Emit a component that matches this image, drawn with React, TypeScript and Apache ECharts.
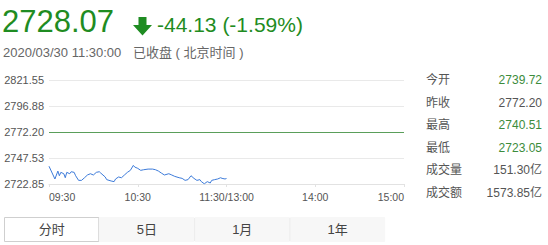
import React, { useEffect, useRef } from "react";
import * as echarts from "echarts";

// Intraday trace: minutes since 09:30 (lunch break removed) and index level
const minutes = [0, 4, 6, 7, 8, 10, 11, 12, 14, 15, 17, 18, 20, 22, 24, 26, 28, 30, 32, 34, 35, 38, 39, 42, 44, 45, 47, 49, 51, 53, 55, 57, 58, 60, 62, 64, 67, 70, 72, 74, 76, 78, 81, 83, 85, 88, 90, 92, 94, 96, 98, 100, 102, 103, 105, 107, 109, 110, 112, 114, 116, 117, 119, 120];
const prices = [2739.72, 2727.6, 2735.1, 2730.7, 2733.9, 2732.6, 2728.8, 2733.9, 2732.6, 2734.5, 2733.9, 2730.7, 2726.3, 2726.3, 2728.8, 2731.4, 2732.6, 2731.4, 2733.9, 2734.5, 2733.2, 2729.5, 2727.0, 2725.7, 2725.1, 2727.6, 2729.5, 2728.8, 2731.4, 2733.9, 2735.8, 2740.51, 2738.9, 2737.7, 2735.8, 2736.4, 2737.0, 2737.0, 2736.4, 2735.1, 2733.2, 2731.4, 2732.6, 2731.4, 2730.1, 2728.8, 2728.2, 2726.3, 2727.0, 2730.7, 2728.2, 2726.3, 2727.0, 2725.1, 2723.05, 2725.1, 2723.8, 2726.3, 2727.0, 2727.6, 2728.8, 2728.2, 2727.6, 2728.07];

const timeLabels = ["09:30", "10:30", "11:30/13:00", "14:00", "15:00"];
const priceTicks = [2722.85, 2747.53, 2772.2, 2796.88, 2821.55];
const prevClose = 2772.2;

const lastPrice = "2728.07";
const changeText = "-44.13 (-1.59%)";
const stampText = "2020/03/30 11:30:00";
const statusText = "已收盘 ( 北京时间 )";

const statNames = ["今开", "昨收", "最高", "最低", "成交量", "成交额"];
const statValues = ["2739.72", "2772.20", "2740.51", "2723.05", "151.30亿", "1573.85亿"];
const statDown = [true, false, true, true, false, false];

const tabNames = ["分时", "5日", "1月", "1年"];

const GREEN = "#1f8c22";
const FONT = "'Liberation Sans', Arial, 'Noto Sans CJK SC', sans-serif";

export default function App() {
  const ref = useRef<HTMLDivElement>(null);

  useEffect(() => {
    document.body.style.margin = "0";
    const chart = echarts.init(ref.current!, null, { renderer: "svg" });

    const graphics: any[] = [
      {
        type: "text",
        left: 2,
        top: 6,
        style: { text: lastPrice, fontSize: 31, fill: GREEN, fontFamily: FONT },
      },
      {
        type: "polygon",
        shape: {
          points: [
            [138.5, 17], [146.5, 17], [146.5, 25], [152, 25],
            [142.5, 35.5], [133, 25], [138.5, 25],
          ],
        },
        style: { fill: GREEN },
      },
      {
        type: "text",
        left: 157,
        top: 14,
        style: { text: changeText, fontSize: 21, fill: GREEN, fontFamily: FONT },
      },
      {
        type: "text",
        left: 3,
        top: 46,
        style: { text: stampText, fontSize: 13, fill: "#666", fontFamily: FONT },
      },
      {
        type: "text",
        left: 133,
        top: 46,
        style: { text: statusText, fontSize: 13, fill: "#666", fontFamily: FONT },
      },
    ];

    statNames.forEach((name, i) => {
      const y = 80 + i * 22.5;
      graphics.push({
        type: "text",
        x: 426,
        y,
        style: {
          text: name,
          fontSize: 12,
          fill: "#555",
          fontFamily: FONT,
          verticalAlign: "middle",
        },
      });
      graphics.push({
        type: "text",
        x: 542,
        y,
        style: {
          text: statValues[i],
          fontSize: 12,
          fill: statDown[i] ? "#3c8c3c" : "#555",
          fontFamily: FONT,
          align: "right",
          verticalAlign: "middle",
        },
      });
    });

    const tabW = 95.3;
    tabNames.forEach((name, i) => {
      const x0 = 4 + i * tabW;
      graphics.push({
        type: "rect",
        shape: { x: x0 + 0.5, y: 217.5, width: tabW - 1, height: 24 },
        style:
          i === 0
            ? { fill: "#fff", stroke: "#cfcfcf", lineWidth: 1 }
            : { fill: "#f7f7f7", stroke: "#f7f7f7", lineWidth: 1 },
      });
      if (i > 1) {
        graphics.push({
          type: "line",
          shape: { x1: x0, y1: 218, x2: x0, y2: 241 },
          style: { stroke: "#ececec", lineWidth: 1 },
        });
      }
      graphics.push({
        type: "text",
        x: x0 + tabW / 2,
        y: 229.5,
        style: {
          text: name,
          fontSize: 13,
          fill: "#444",
          fontFamily: FONT,
          align: "center",
          verticalAlign: "middle",
        },
      });
    });

    chart.setOption({
      animation: false,
      backgroundColor: "#fff",
      grid: { left: 49, right: 144, top: 80, bottom: 61 },
      xAxis: {
        type: "value",
        min: 0,
        max: 240,
        interval: 60,
        axisLine: { show: true, lineStyle: { color: "#e2e2e2" } },
        axisTick: { show: true, length: 3, lineStyle: { color: "#e2e2e2" } },
        splitLine: { show: false },
        axisLabel: {
          margin: 8,
          fontSize: 10.5,
          color: "#555",
          fontFamily: FONT,
          alignMinLabel: "left",
          alignMaxLabel: "right",
          formatter: (v: number) => timeLabels[Math.round(v / 60)] ?? "",
        },
      },
      yAxis: {
        type: "value",
        min: priceTicks[0],
        max: priceTicks[priceTicks.length - 1],
        axisLine: { show: false },
        axisTick: { show: false, customValues: priceTicks },
        splitLine: { show: true, lineStyle: { color: "#e9e9e9" } },
        axisLabel: {
          customValues: priceTicks,
          margin: 5,
          fontSize: 11,
          color: "#555",
          fontFamily: FONT,
          formatter: (v: number) => v.toFixed(2),
        },
      },
      series: [
        {
          type: "line",
          data: minutes.map((m, i) => [m, prices[i]]),
          showSymbol: false,
          lineStyle: { color: "#3d7bd9", width: 1 },
          markLine: {
            silent: true,
            symbol: ["none", "none"],
            label: { show: false },
            lineStyle: { color: "#5a9e5a", width: 1, type: "solid" },
            data: [{ yAxis: prevClose }],
          },
        },
      ],
      graphic: graphics,
    });

    return () => chart.dispose();
  }, []);

  return <div ref={ref} style={{ width: 548, height: 245 }} />;
}
